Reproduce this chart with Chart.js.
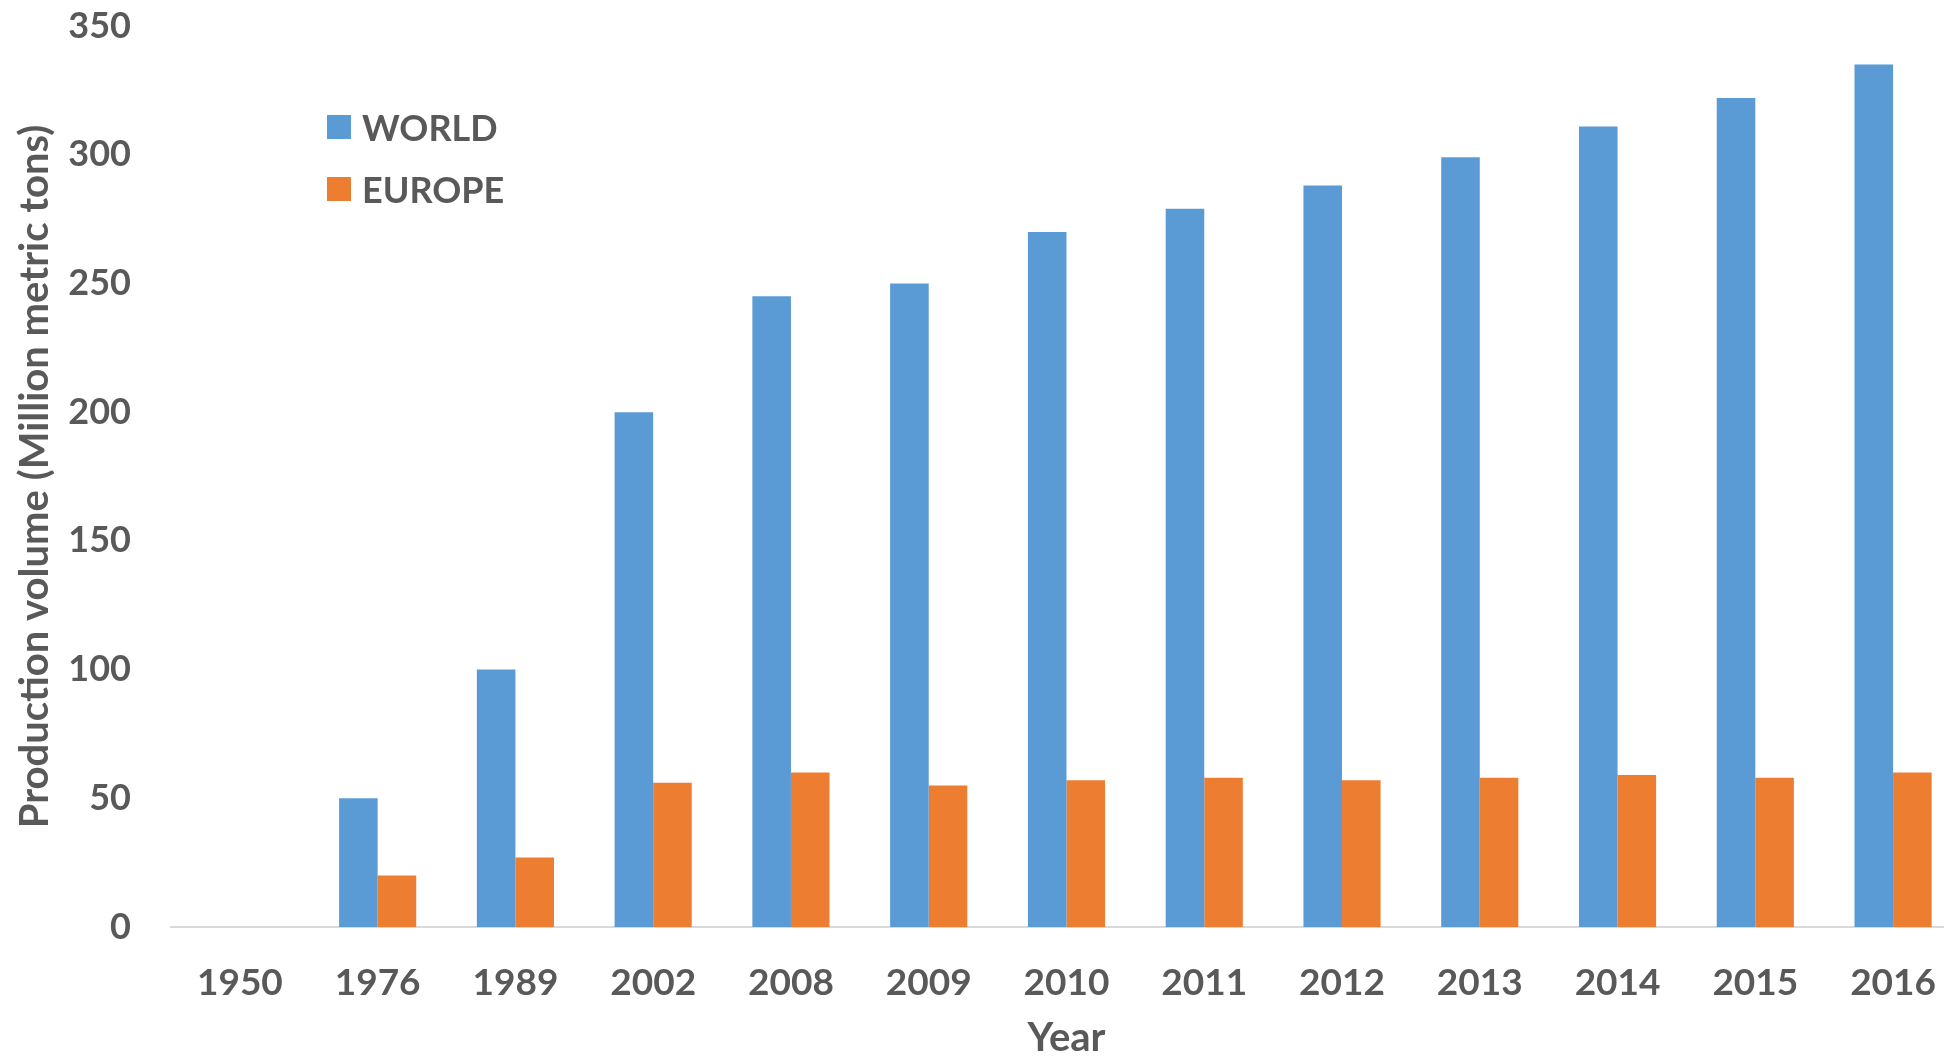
<!DOCTYPE html>
<html>
<head>
<meta charset="utf-8">
<script src="https://cdn.jsdelivr.net/npm/chart.js@4.4.0/dist/chart.umd.min.js"></script>
<style>
  html, body { margin: 0; padding: 0; background: #fff; overflow: hidden; }
  #wrap { position: relative; width: 1944px; height: 1058px; overflow: hidden; }
  #legend { position: absolute; left: 327px; top: 106px; font-family: Lato, sans-serif; font-weight: bold; font-size: 36px; color: #595959; }
  .item { display: flex; align-items: center; height: 42px; margin-bottom: 20px; }
  .box { width: 24px; height: 24px; margin-right: 11px; }
</style>
</head>
<body>
<div id="wrap">
  <canvas id="myChart" width="1970" height="1058"></canvas>
  <div id="legend"></div>
</div>
<script>
// valeurs
const years = ['1950', '1976', '1989', '2002', '2008', '2009', '2010', '2011', '2012', '2013', '2014', '2015', '2016'];
const world = [0, 50, 100, 200, 245, 250, 270, 279, 288, 299, 311, 322, 335];
const europe = [0, 20, 27, 56, 60, 55, 57, 58, 57, 58, 59, 58, 60];
const yTicks = [0, 50, 100, 150, 200, 250, 300, 350];

const grey = '#595959';
const font = { family: 'Lato, sans-serif', weight: 'bold', size: 36 };

const ctx = document.getElementById('myChart').getContext('2d');
const myChart = new Chart(ctx, {
  type: 'bar',
  data: {
    labels: years,
    datasets: [
      { label: 'WORLD', data: world, backgroundColor: '#5B9BD5' },
      { label: 'EUROPE', data: europe, backgroundColor: '#ED7D31' }
    ]
  },
  options: {
    responsive: false,
    animation: false,
    categoryPercentage: 0.56,
    barPercentage: 1,
    layout: { padding: { left: 11, top: 26, right: 0, bottom: 0 } },
    plugins: { legend: { display: false }, tooltip: { enabled: false } },
    scales: {
      x: {
        afterFit: (scale) => { scale.height = 131; },
        grid: { display: false, drawTicks: false },
        border: { color: '#d9d9d9', width: 2 },
        ticks: { color: grey, font: { ...font, size: 37 }, padding: 34, maxRotation: 0 },
        title: { display: true, text: 'Year', color: grey, font: { ...font, size: 40, lineHeight: 1 }, padding: { top: 0, bottom: 0 } }
      },
      y: {
        min: 0,
        max: 350,
        afterFit: (scale) => { scale.width = 160; scale.paddingTop = 0; scale.paddingBottom = 0; },
        afterBuildTicks: (scale) => { scale.ticks = yTicks.map(v => ({ value: v })); },
        grid: { display: false, drawTicks: false },
        border: { display: false },
        ticks: { color: grey, font: font, padding: 40 },
        title: { display: true, text: 'Production volume (Million metric tons)', color: grey, font: { ...font, size: 40 }, padding: 0 }
      }
    }
  }
});

// légende HTML
const legend = document.getElementById('legend');
myChart.data.datasets.forEach(ds => {
  const item = document.createElement('div');
  item.className = 'item';
  item.innerHTML = `<span class="box" style="background:${ds.backgroundColor}"></span><span>${ds.label}</span>`;
  legend.appendChild(item);
});
</script>
</body>
</html>
